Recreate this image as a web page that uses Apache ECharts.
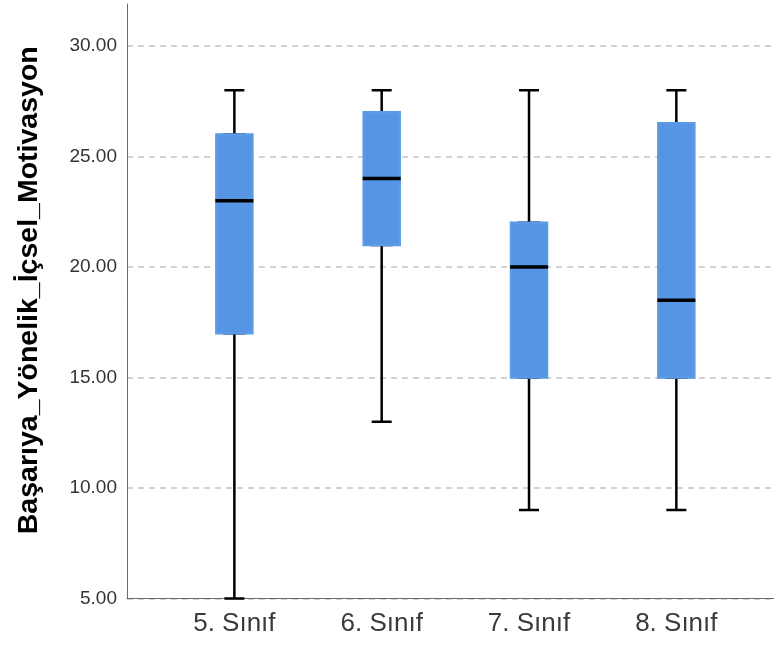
<!DOCTYPE html>
<html>
<head>
<meta charset="utf-8">
<script src="https://cdn.jsdelivr.net/npm/echarts@6/dist/echarts.min.js"></script>
<style>
html,body{margin:0;padding:0;background:#fff;}
#chart{width:774px;height:646px;}
</style>
</head>
<body>
<div id="chart"></div>
<script>
const categories = ['5. Sınıf', '6. Sınıf', '7. Sınıf', '8. Sınıf'];
const mins    = [5, 13, 9, 9];
const q1s     = [17, 21, 15, 15];
const medians = [23, 24, 20, 18.5];
const q3s     = [26, 27, 22, 26.5];
const maxs    = [28, 28, 28, 28];
const yTitle = 'Başarıya_Yönelik_İçsel_Motivasyon';

const FONT = 'Liberation Sans, Arial, sans-serif';
const yMin = 5, yMax = 31.9;

const whiskerData = categories.map((c, i) => [mins[i], q1s[i], medians[i], q3s[i], maxs[i]]);
const boxData = categories.map((c, i) => [q1s[i], q1s[i], medians[i], q3s[i], q3s[i]]);
const medianData = categories.map((c, i) => [medians[i], medians[i], medians[i], medians[i], medians[i]]);

const chart = echarts.init(document.getElementById('chart'), null, {renderer: 'canvas'});
chart.setOption({
  animation: false,
  backgroundColor: '#ffffff',
  grid: [
    {left: 127, right: 0, top: 4, bottom: 47.5},
    {left: 160.7, right: 24, top: 4, bottom: 47.5}
  ],
  xAxis: [
    {gridIndex: 0, type: 'value', min: 0, max: 1,
     axisLine: {show: true, lineStyle: {color: '#6a6a6a', width: 1}},
     axisTick: {show: false}, axisLabel: {show: false}, splitLine: {show: false}},
    {gridIndex: 1, type: 'category', data: categories, position: 'bottom',
     axisLine: {show: false}, axisTick: {show: false}, splitLine: {show: false},
     axisLabel: {show: true, fontSize: 26, color: '#3a3a3a', fontFamily: FONT, margin: 12}},
    {gridIndex: 1, type: 'category', data: categories, position: 'bottom', show: false},
    {gridIndex: 1, type: 'category', data: categories, position: 'bottom', show: false}
  ],
  yAxis: [
    {gridIndex: 0, type: 'value', min: yMin, max: yMax, interval: 5,
     name: yTitle, nameLocation: 'middle', nameGap: 83,
     nameTextStyle: {fontSize: 28.5, fontWeight: 'bold', color: '#000', fontFamily: FONT, padding: [0, 0, 0, 22]},
     axisLine: {show: true, lineStyle: {color: '#6a6a6a', width: 1}},
     axisTick: {show: false},
     axisLabel: {show: true, showMaxLabel: false, fontSize: 19, color: '#333333', fontFamily: FONT, margin: 10,
       formatter: v => (v % 5 === 0 ? v.toFixed(2) : '')},
     splitLine: {show: true, showMaxLine: false, lineStyle: {color: '#c4c4c4', width: 1.5, type: [6, 5]}}},
    {gridIndex: 1, type: 'value', min: yMin, max: yMax, interval: 5, show: false, splitLine: {show: false}}
  ],
  series: [
    {type: 'boxplot', xAxisIndex: 1, yAxisIndex: 1, data: whiskerData, boxWidth: [20, 20],
     itemStyle: {color: '#ffffff', borderColor: '#000000', borderWidth: 2.5}, silent: true},
    {type: 'boxplot', xAxisIndex: 2, yAxisIndex: 1, data: boxData, boxWidth: [36, 36],
     itemStyle: {color: '#5595e3', borderColor: '#5a9ae6', borderWidth: 2.5}, silent: true},
    {type: 'boxplot', xAxisIndex: 3, yAxisIndex: 1, data: medianData, boxWidth: [38, 38],
     itemStyle: {color: '#000000', borderColor: '#000000', borderWidth: 3.5}, silent: true}
  ]
});
</script>
</body>
</html>
